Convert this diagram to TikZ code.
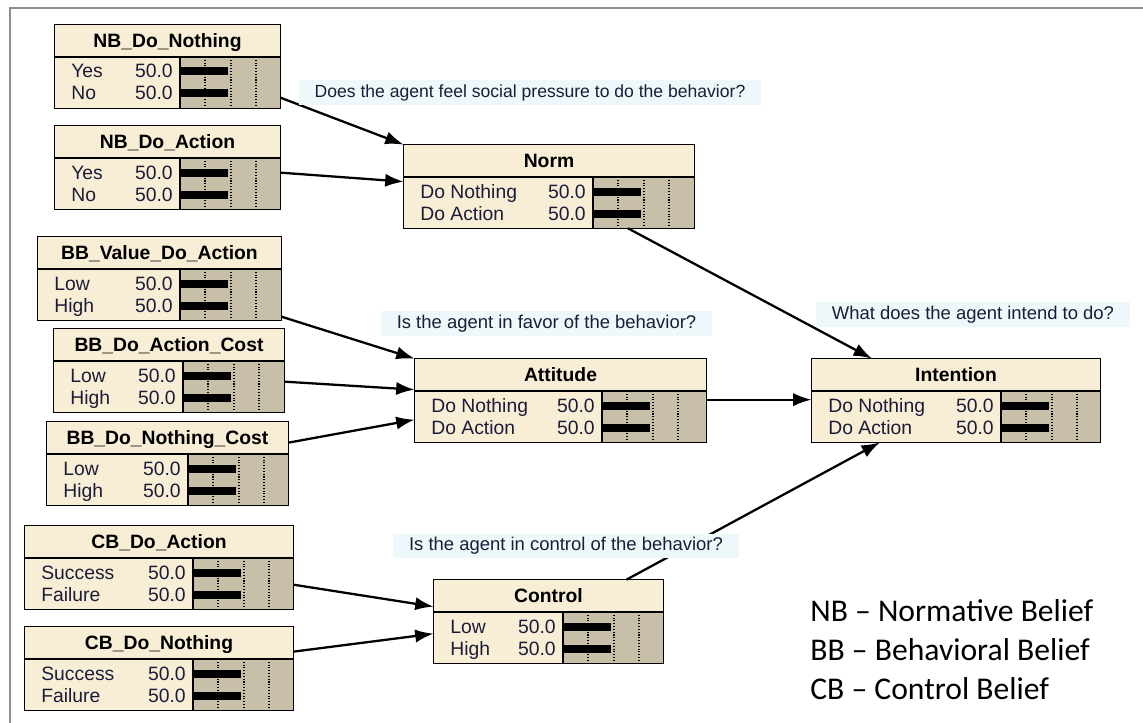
\documentclass[tikz,border=0pt]{standalone}
\usepackage{fontspec}
\setmainfont{Liberation Sans}
\newfontfamily\legendfont{Carlito}
\usepackage{xcolor}
\usetikzlibrary{arrows.meta}
\usetikzlibrary{calc}
\usetikzlibrary{fit}

\definecolor{cream}{HTML}{F8EED6}
\definecolor{barsand}{HTML}{C8BFA9}
\definecolor{askfill}{HTML}{EEF8FB}
\definecolor{framegray}{HTML}{8E8E8E}
\definecolor{ink}{HTML}{1C1C38}

\tikzset{
	boxline/.style={draw=black, line width=0.9pt},
	titletext/.style={font=\fontsize{11}{13}\selectfont\bfseries, inner sep=0pt},
	statetext/.style={font=\fontsize{11}{13}\selectfont, text=ink, inner sep=0pt},
	ask/.style={fill=askfill, text=ink, font=\fontsize{10.5}{13}\selectfont, inner xsep=9pt, inner ysep=0pt, minimum height=14pt, text height=8pt, text depth=2.5pt},
	link/.style={-{Latex[length=10.5pt,width=7.5pt]}, line width=1.3pt},
	legend/.style={font=\legendfont\fontsize{18}{21}\selectfont, anchor=west, inner sep=0pt}
}

% name, left, top, right, bar start, title, state 1, state 2
\newcommand{\netnode}[8]{%
	\node[fit={(#2,#3) (#4,#3+83)}, inner sep=0pt, fill=cream] (#1) {};
	\fill[barsand] (#5,#3+32) rectangle (#4,#3+83);
	\foreach \q in {25,51,76}
		\draw[densely dotted, line width=0.6pt] (#5+\q,#3+32) -- (#5+\q,#3+83);
	\fill (#5+1,#3+42.5) rectangle (#5+48,#3+50.5);
	\fill (#5+1,#3+64.5) rectangle (#5+48,#3+72.5);
	\draw[boxline] (#2,#3+32) -- (#4,#3+32);
	\draw[boxline] (#5,#3+32) -- (#5,#3+83);
	\draw[boxline] (#1.north west) rectangle (#1.south east);
	\node[titletext, anchor=base] (#1-title) at ($(#1.north)+(0,23)$) {#6};
	\node[statetext, anchor=base west] (#1-s1) at (#2+16,#3+53) {#7};
	\node[statetext, anchor=base east] (#1-v1) at (#5-7,#3+53) {50.0};
	\node[statetext, anchor=base west] (#1-s2) at (#2+16,#3+75) {#8};
	\node[statetext, anchor=base east] (#1-v2) at (#5-7,#3+75) {50.0};
}

\begin{document}
\begin{tikzpicture}[x=0.02cm, y=-0.02cm]
	\useasboundingbox (0,0) rectangle (1143,723);
	\draw[framegray, line width=1.7pt] (10,723) -- (10,8) -- (1143,8);

	% beliefs
	\netnode{nbnothing}{55}{25}{280}{180}{NB\_Do\_Nothing}{Yes}{No}
	\netnode{nbaction}{55}{126}{280}{180}{NB\_Do\_Action}{Yes}{No}
	\netnode{bbvalue}{38}{237}{281}{180}{BB\_Value\_Do\_Action}{Low}{High}
	\netnode{bbactioncost}{54}{329}{284}{183}{BB\_Do\_Action\_Cost}{Low}{High}
	\netnode{bbnothingcost}{47}{422}{288}{188}{BB\_Do\_Nothing\_Cost}{Low}{High}
	\netnode{cbaction}{25}{526}{293}{193}{CB\_Do\_Action}{Success}{Failure}
	\netnode{cbnothing}{25}{627}{293}{193}{CB\_Do\_Nothing}{Success}{Failure}

	% attitudes and intention
	\netnode{norm}{404}{145}{694}{593}{Norm}{Do Nothing}{Do Action}
	\netnode{attitude}{415}{359}{706}{602}{Attitude}{Do Nothing}{Do Action}
	\netnode{control}{434}{580}{663}{563}{Control}{Low}{High}
	\netnode{intention}{812}{359}{1100}{1001}{Intention}{Do Nothing}{Do Action}

	\draw[link] ($(nbnothing.north east)+(0,73)$) -- (norm.north west);
	\draw[link] ($(nbaction.north east)+(0,47)$) -- ($(norm.north west)+(0,37)$);
	\draw[link] ($(norm.south)+(79,0)$) -- ($(intention.north)+(-84,0)$);
	\draw[link] ($(bbvalue.north east)+(0,80)$) -- (attitude.north west);
	\draw[link] ($(bbactioncost.north east)+(0,53)$) -- ($(attitude.north west)+(0,31)$);
	\draw[link] ($(bbnothingcost.north east)+(0,21)$) -- ($(attitude.north west)+(0,61)$);
	\draw[link] ($(attitude.north east)+(0,41)$) -- ($(intention.north west)+(0,41)$);
	\draw[link] ($(cbaction.north east)+(0,59)$) -- ($(control.north west)+(0,27)$);
	\draw[link] ($(cbnothing.north east)+(0,25)$) -- ($(control.north west)+(0,54)$);
	\draw[link] ($(control.north)+(78,0)$) -- ($(intention.south)+(-76,0)$);

	% questions
	\node[ask, font=\fontsize{10}{13}\selectfont] (qnorm) at (530,92.5) {Does the agent feel social pressure to do the behavior?};
	\node[ask] (qattitude) at (546.5,323.5) {Is the agent in favor of the behavior?};
	\node[ask] (qintention) at (973,314.5) {What does the agent intend to do?};
	\node[ask] (qcontrol) at (566,546) {Is the agent in control of the behavior?};

	\node[legend] (legnb) at (810,611) {NB – Normative Belief};
	\node[legend] (legbb) at (810,650) {BB – Behavioral Belief};
	\node[legend] (legcb) at (810,689) {CB – Control Belief};
\end{tikzpicture}
\end{document}
